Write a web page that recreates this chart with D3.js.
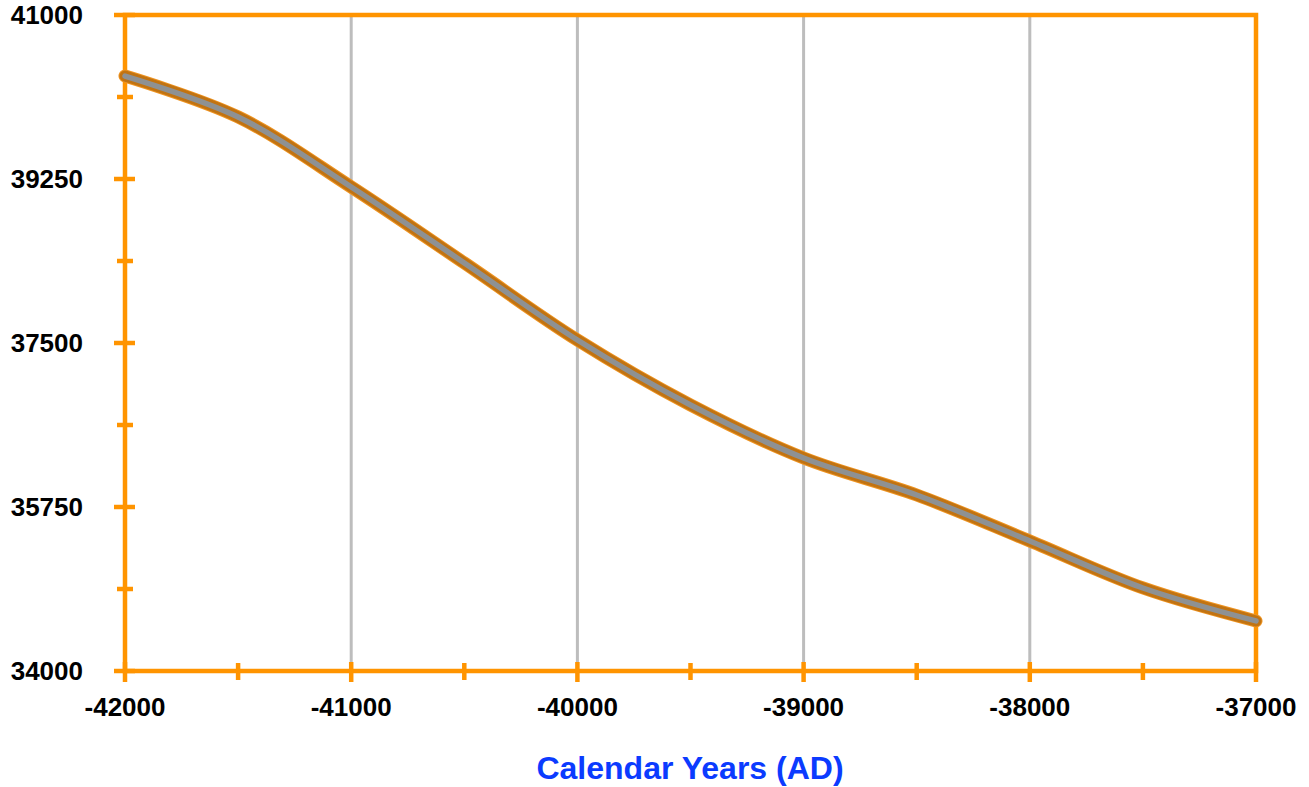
<!DOCTYPE html>
<html><head><meta charset="utf-8">
<script src="https://cdn.jsdelivr.net/npm/d3@7"></script>
<style>html,body{margin:0;padding:0;background:#fff;}svg{display:block;}</style>
</head><body>
<svg id="c" width="1309" height="787"></svg>
<script>
const years = [-42000,-41500,-41000,-40500,-40000,-39500,-39000,-38500,-38000,-37500,-37000];
const calBP = [40349,39912,39165,38354,37532,36839,36273,35878,35387,34886,34534];
const xTicks = [-42000,-41000,-40000,-39000,-38000,-37000];
const xMinor = [-41500,-40500,-39500,-38500,-37500];
const yTicks = [34000,35750,37500,39250,41000];
const yMinor = [34875,36625,38375,40125];
const xTitle = "Calendar Years (AD)";

const svg = d3.select("#c");
const L=125, R=1256, T=15, B=671;
const x = d3.scaleLinear().domain([-42000,-37000]).range([L,R]);
const y = d3.scaleLinear().domain([34000,41000]).range([B,T]);
const orange = "#FF9400";
const font = "Liberation Sans, Arial, Helvetica, sans-serif";

// gridlines
svg.append("g").selectAll("line").data(xTicks.slice(1,-1)).join("line")
  .attr("x1",d=>x(d)).attr("x2",d=>x(d)).attr("y1",T).attr("y2",B)
  .attr("stroke","#BDBDBD").attr("stroke-width",3);

// frame
svg.append("rect").attr("x",L).attr("y",T).attr("width",R-L).attr("height",B-T)
  .attr("fill","none").attr("stroke",orange).attr("stroke-width",4.5);

// y ticks
svg.append("g").selectAll("line").data(yTicks).join("line")
  .attr("x1",L-11).attr("x2",L+10).attr("y1",d=>y(d)).attr("y2",d=>y(d))
  .attr("stroke",orange).attr("stroke-width",4.5);
svg.append("g").selectAll("line").data(yMinor).join("line")
  .attr("x1",L-8).attr("x2",L+8).attr("y1",d=>y(d)).attr("y2",d=>y(d))
  .attr("stroke",orange).attr("stroke-width",4.5);
// x ticks
svg.append("g").selectAll("line").data(xTicks).join("line")
  .attr("x1",d=>x(d)).attr("x2",d=>x(d)).attr("y1",B-9).attr("y2",B+11)
  .attr("stroke",orange).attr("stroke-width",4.5);
svg.append("g").selectAll("line").data(xMinor).join("line")
  .attr("x1",d=>x(d)).attr("x2",d=>x(d)).attr("y1",B-8).attr("y2",B+9)
  .attr("stroke",orange).attr("stroke-width",4.5);

// labels
svg.append("g").selectAll("text").data(yTicks).join("text")
  .attr("x",83).attr("y",d=>y(d)).attr("dy","0.36em").attr("text-anchor","end")
  .attr("font-family",font).attr("font-weight","bold")
  .attr("font-size",26).text(d=>d);
svg.append("g").selectAll("text").data(xTicks).join("text")
  .attr("x",d=>x(d)).attr("y",707).attr("dy","0.36em").attr("text-anchor","middle")
  .attr("font-family",font).attr("font-weight","bold")
  .attr("font-size",26).text(d=>d);
svg.append("text").attr("x",690).attr("y",767).attr("dy","0.36em").attr("text-anchor","middle")
  .attr("font-family",font).attr("font-weight","bold")
  .attr("font-size",32).attr("fill","#0B3BFF").text(xTitle);

// line
const data = years.map((d,i)=>({x:d,y:calBP[i]}));
const line = d3.line().x(d=>x(d.x)).y(d=>y(d.y)).curve(d3.curveCatmullRom.alpha(0.5));
svg.append("path").datum(data).attr("d",line).attr("fill","none")
  .attr("stroke","#EE9422").attr("stroke-width",13).attr("stroke-linecap","round").attr("stroke-linejoin","round");
svg.append("path").datum(data).attr("d",line).attr("fill","none")
  .attr("stroke","#C17312").attr("stroke-width",11).attr("stroke-linecap","round").attr("stroke-linejoin","round");
svg.append("path").datum(data).attr("d",line).attr("fill","none")
  .attr("stroke","#8E9193").attr("stroke-width",5.5).attr("stroke-linecap","round").attr("stroke-linejoin","round");
</script>
</body></html>
